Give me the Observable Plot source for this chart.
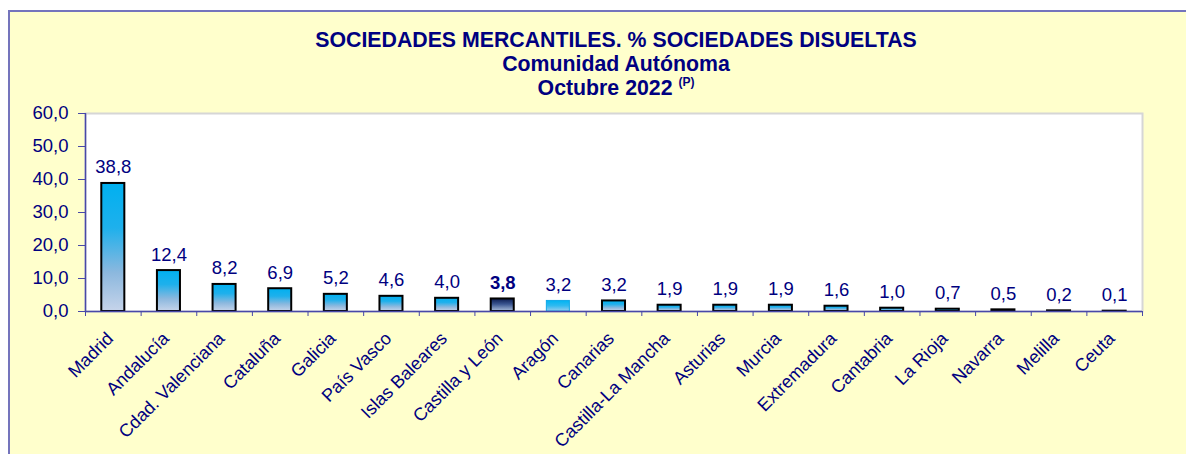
<!DOCTYPE html>
<html><head><meta charset="utf-8">
<script src="https://cdn.jsdelivr.net/npm/d3@7"></script>
<script src="https://cdn.jsdelivr.net/npm/@observablehq/plot@0.6"></script>
<style>
html,body{margin:0;padding:0;background:#fff;}
#wrap{position:relative;width:1186px;height:454px;overflow:hidden;font-family:Arial,"Liberation Sans",sans-serif;}
#bg{position:absolute;left:8px;top:10px;right:-10px;bottom:-10px;background:#FFFFCC;border-left:2px solid #7474BC;border-top:2px solid #7474BC;}
#title{position:absolute;left:216px;width:800px;top:28px;text-align:center;color:#000080;font-weight:bold;font-size:21.3px;line-height:24px;white-space:nowrap;}
#title sup{font-size:12px;vertical-align:0;position:relative;top:-9px;}
#chart{position:absolute;left:0;top:0;}
</style></head>
<body>
<div id="wrap">
  <div id="bg"></div>
  <div id="chart"></div>
  <div id="title">SOCIEDADES MERCANTILES. % SOCIEDADES DISUELTAS<br>Comunidad Autónoma<br>Octubre 2022 <sup>(P)</sup></div>
</div>
<script>
const categories = ["Madrid","Andalucía","Cdad. Valenciana","Cataluña","Galicia","País Vasco","Islas Baleares","Castilla y León","Aragón","Canarias","Castilla-La Mancha","Asturias","Murcia","Extremadura","Cantabria","La Rioja","Navarra","Melilla","Ceuta"];
const values = [38.8,12.4,8.2,6.9,5.2,4.6,4.0,3.8,3.2,3.2,1.9,1.9,1.9,1.6,1.0,0.7,0.5,0.2,0.1];
const yTicks = [0,10,20,30,40,50,60];
const highlightDark = "Castilla y León";
const highlightBright = "Aragón";

const navy = "#000080";
const axisColor = "#4848A8";
const fmt = v => v.toFixed(1).replace(".", ",");
const data = categories.map((c, i) => ({c, v: values[i], i}));
const normal = data.filter(d => d.c !== highlightDark && d.c !== highlightBright);
const dark = data.filter(d => d.c === highlightDark);
const bright = data.filter(d => d.c === highlightBright);

const barOpts = {x1: "i", x2: d => d.i + 1, y: "v", insetLeft: 16.3, insetRight: 16.3};

const plot = Plot.plot({
  width: 1186, height: 454,
  marginLeft: 85, marginTop: 113, marginRight: 44, marginBottom: 143,
  style: {background: "transparent", fontFamily: "Arial, 'Liberation Sans', sans-serif", overflow: "visible"},
  x: {type: "linear", domain: [0, categories.length]},
  y: {domain: [0, 60]},
  marks: [
    Plot.frame({fill: "white", stroke: "#D6D6D6", strokeWidth: 2}),
    Plot.rectY(normal, {...barOpts, fill: "url(#gNormal)", stroke: "black", strokeWidth: 2}),
    Plot.rectY(dark, {...barOpts, fill: "url(#gDark)", stroke: "black", strokeWidth: 2}),
    Plot.rectY(bright, {...barOpts, fill: "url(#gBright)", stroke: "#10A8E8", strokeWidth: 1}),
    Plot.axisY({ticks: yTicks, tickFormat: fmt, tickSize: 7, tickPadding: 10, stroke: axisColor, fill: navy, fontSize: 18.5, label: null}),
    Plot.axisX({ticks: d3.range(categories.length + 1), tickFormat: () => "", tickSize: 5, stroke: axisColor, label: null}),
    Plot.ruleX([0], {stroke: axisColor, strokeWidth: 1.5}),
    Plot.ruleY([0], {stroke: axisColor, strokeWidth: 1.5}),
    Plot.text(data.filter(d => d.c !== highlightDark), {x: d => d.i + 0.5, y: "v", text: d => fmt(d.v), lineAnchor: "bottom", dy: -10, fontSize: 18.5, fill: navy}),
    Plot.text(dark, {x: d => d.i + 0.5, y: "v", text: d => fmt(d.v), lineAnchor: "bottom", dy: -10, fontSize: 18.5, fontWeight: "bold", fill: navy}),
    Plot.text(data, {x: d => d.i + 0.5, y: () => 0, text: "c", rotate: -45, textAnchor: "end", dx: -3, dy: 24, fontSize: 18, fill: navy})
  ]
});

const defs = d3.select(plot).insert("defs", ":first-child");
function grad(id, stops) {
  const g = defs.append("linearGradient").attr("id", id).attr("x1", 0).attr("y1", 0).attr("x2", 0).attr("y2", 1);
  stops.forEach(([o, c]) => g.append("stop").attr("offset", o).attr("stop-color", c));
}
grad("gNormal", [[0, "#00B0F0"], [0.35, "#1EB0EC"], [0.7, "#8CB8DE"], [1, "#C6D4EA"]]);
grad("gDark", [[0, "#0A1A50"], [0.45, "#3A5590"], [1, "#A8BCDA"]]);
grad("gBright", [[0, "#00B4F2"], [0.5, "#30BAF0"], [1, "#98CCEE"]]);

document.getElementById("chart").appendChild(plot);
</script>
</body></html>
